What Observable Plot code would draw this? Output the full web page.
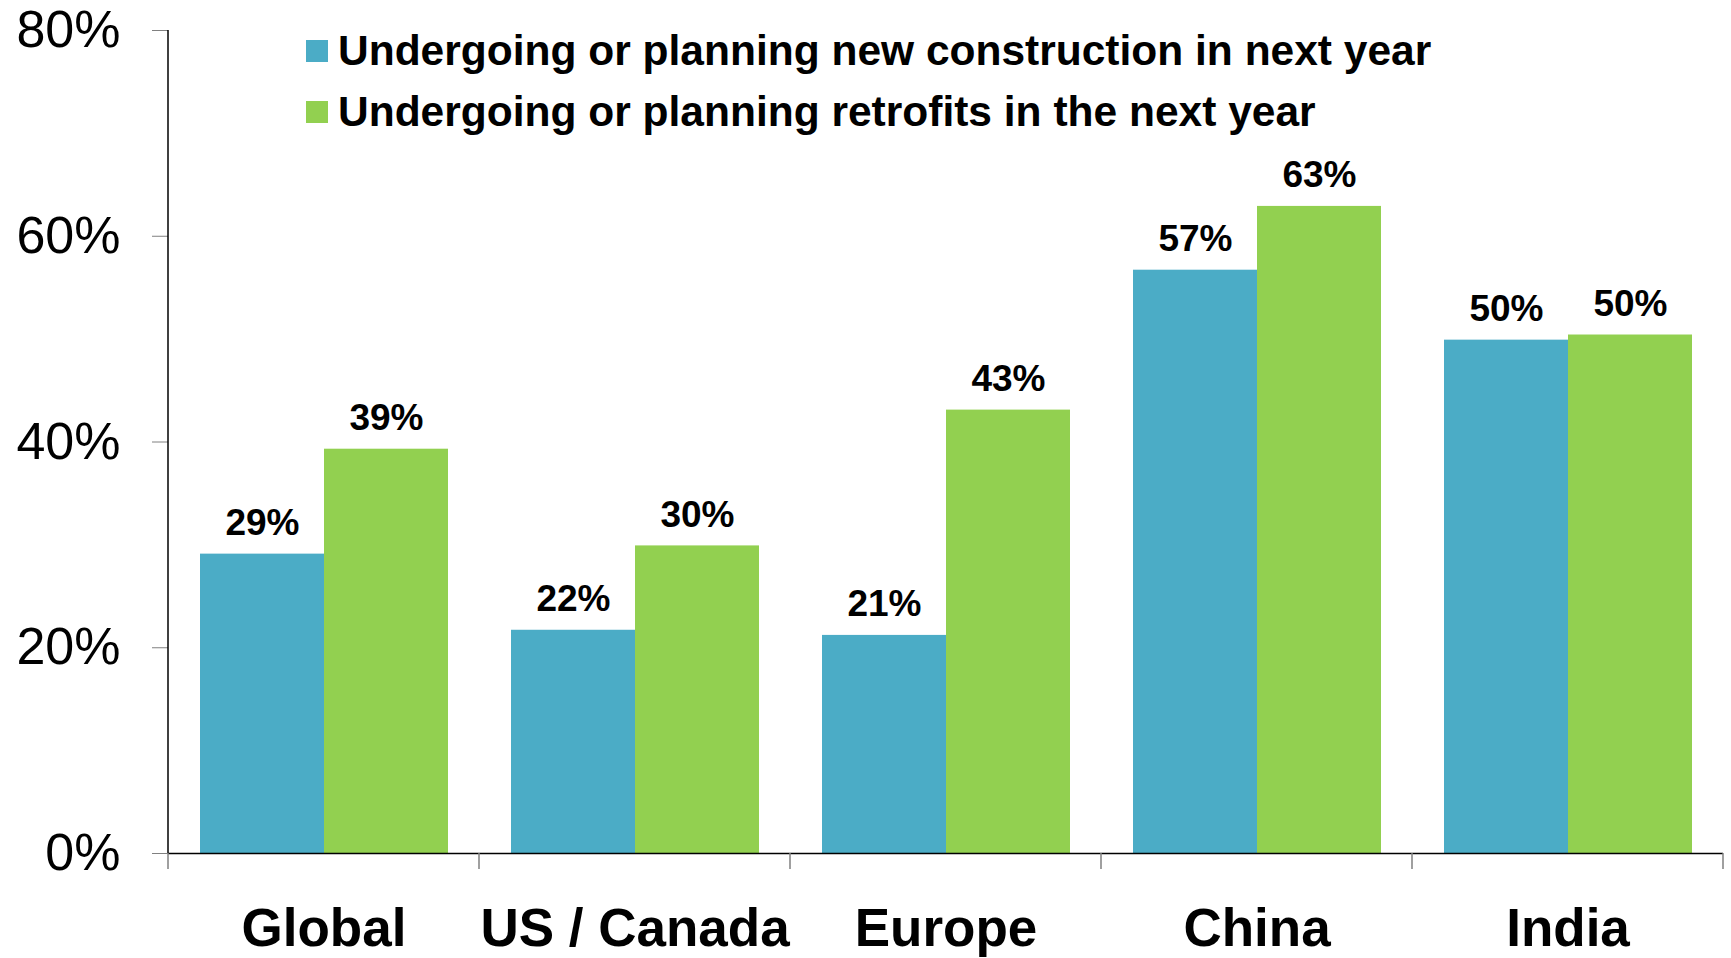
<!DOCTYPE html>
<html><head><meta charset="utf-8">
<script src="https://cdn.jsdelivr.net/npm/d3@7"></script>
<script src="https://cdn.jsdelivr.net/npm/@observablehq/plot@0.6"></script>
<style>
body{margin:0;background:#fff;font-family:"Liberation Sans",Arial,sans-serif;}
#wrap{position:relative;width:1731px;height:958px;}
.legend{position:absolute;left:306px;top:20px;}
.row{display:flex;align-items:center;height:61px;font-size:42.5px;font-weight:bold;color:#000;white-space:nowrap;}
.sw{width:22px;height:22px;margin-right:10px;flex:none;}
</style></head><body><div id="wrap"></div>
<script>
const regions = ["Global", "US / Canada", "Europe", "China", "India"];
const seriesNames = ["Undergoing or planning new construction in next year", "Undergoing or planning retrofits in the next year"];
const newConstruction = [29.1, 21.7, 21.2, 56.7, 49.9];
const retrofits = [39.3, 29.9, 43.1, 62.9, 50.4];
const colors = ["#4BACC6", "#92D050"];
const yTicks = [0, 20, 40, 60, 80];

const data = regions.flatMap((r, i) => [
  {region: r, series: seriesNames[0], value: newConstruction[i]},
  {region: r, series: seriesNames[1], value: retrofits[i]}
]);

const font = "'Liberation Sans', Arial, sans-serif";
const plot = Plot.plot({
  width: 1731, height: 958,
  marginLeft: 166, marginRight: 7, marginTop: 30, marginBottom: 105,
  style: {fontFamily: font, background: "#fff", color: "#000"},
  fx: {domain: regions, padding: 0, label: null},
  x: {domain: seriesNames, paddingInner: 0, paddingOuter: 0.25, axis: null},
  y: {domain: [0, 80], axis: null},
  color: {domain: seriesNames, range: colors},
  marks: [
    Plot.barY(data, {fx: "region", x: "series", y: "value", fill: "series"}),
    Plot.ruleY([0], {stroke: "#000", strokeWidth: 1.5}),
    Plot.text(data, {fx: "region", x: "series", y: "value", text: d => Math.round(d.value) + "%",
      lineAnchor: "bottom", dy: -19, fontSize: 37, fontWeight: "bold", fill: "#000"}),
    Plot.axisY({ticks: yTicks, tickFormat: d => d + "%", tickSize: 16, tickPadding: 32,
      fontSize: 52, stroke: "#808080", fill: "#000", label: null}),
    Plot.axisFx({anchor: "bottom", tickSize: 0, tickPadding: 55, fontSize: 53, fontWeight: "bold", fill: "#000", label: null})
  ]
});

document.getElementById("wrap").appendChild(plot);

// y axis domain line and category boundary ticks, from the plot's scales
const svg = d3.select(plot.tagName.toLowerCase() === "svg" ? plot : plot.querySelector("svg"));
const fx = plot.scale("fx"), y = plot.scale("y");
const y0 = y.apply(0), yTop = y.apply(d3.max(yTicks));
const g = svg.append("g");
const x0 = fx.apply(regions[0]);
g.append("line").attr("x1", x0).attr("x2", x0).attr("y1", yTop).attr("y2", y0)
  .attr("stroke", "#000").attr("stroke-width", 1.5);
const bounds = regions.map(r => fx.apply(r)).concat([fx.apply(regions[regions.length - 1]) + fx.bandwidth]);
g.selectAll(".bt").data(bounds).join("line")
  .attr("x1", d => d).attr("x2", d => d).attr("y1", y0).attr("y2", y0 + 16)
  .attr("stroke", "#808080").attr("stroke-width", 1.5);

// legend
const legend = document.createElement("div");
legend.className = "legend";
seriesNames.forEach((s, i) => {
  const row = document.createElement("div");
  row.className = "row";
  const sw = document.createElement("div");
  sw.className = "sw";
  sw.style.background = colors[i];
  const t = document.createElement("span");
  t.textContent = s;
  row.appendChild(sw); row.appendChild(t);
  legend.appendChild(row);
});
document.getElementById("wrap").appendChild(legend);
</script></body></html>
